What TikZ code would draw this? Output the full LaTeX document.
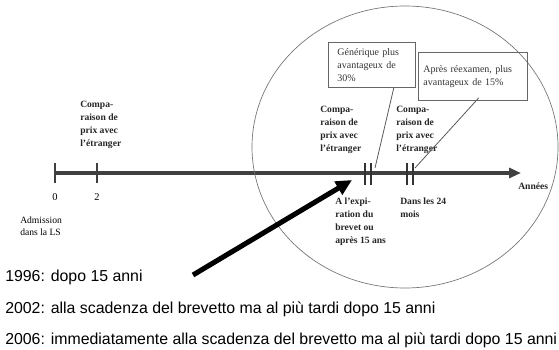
\documentclass[tikz,border=0pt]{standalone}
\usepackage{fontspec}
\setmainfont{Liberation Serif}
\newfontfamily\notefont{Liberation Sans}
\usetikzlibrary{arrows.meta}

\begin{document}
\begin{tikzpicture}[x=0.75pt, y=-0.75pt,
  lbl/.style={anchor=north west, align=left, inner sep=0pt,
    font=\fontsize{7.2}{9.75}\selectfont\bfseries, text=black!85},
  txtbox/.style={draw=black!60, line width=0.6pt, anchor=north west,
    align=left, inner ysep=0pt, font=\fontsize{7.5}{9.75}\selectfont, text=black!80},
  yeartick/.style={line width=2.2pt, draw=black!75},
  pointer/.style={draw=black!65, line width=0.6pt},
  note/.style={anchor=west, inner sep=0pt, font=\notefont\fontsize{11.9}{13}\selectfont}]
  \useasboundingbox (0,0) rectangle (559,349);

  % time axis
  \draw[line width=2.3pt, black!75, -{Triangle[length=9pt,width=7.5pt]}] (55,173) -- (521,173);
  \draw[yeartick] (55,163) -- (55,183);
  \draw[yeartick] (97,163) -- (97,183);
  \draw[line width=1.8pt, black!80] (365,163) -- (365,185) (371,163) -- (371,185);
  \draw[line width=1.8pt, black!80] (407,163) -- (407,185) (413,163) -- (413,185);
  \coordinate (dblA) at (375,168);
  \coordinate (dblB) at (415,168);

  \node[inner sep=0pt, font=\fontsize{7.8}{9}\selectfont] (zero) at (55,197) {0};
  \node[inner sep=0pt, font=\fontsize{7.8}{9}\selectfont] (two) at (97,197) {2};
  \node[lbl, font=\fontsize{7.2}{8.8}\selectfont, text=black] (admit) at (20,217) {Admission\\dans la LS};
  \node[lbl] (cmpA) at (80,101) {Compa-\\raison de\\prix avec\\l'étranger};
  \node[lbl] (cmpB) at (320,106) {Compa-\\raison de\\prix avec\\l'étranger};
  \node[lbl] (cmpC) at (396,106) {Compa-\\raison de\\prix avec\\l'étranger};
  \node[lbl] (expiry) at (335,198) {A l'expi-\\ration du\\brevet ou\\après 15 ans};
  \node[lbl] (within) at (400,198) {Dans les 24\\mois};
  \node[lbl, anchor=west] (years) at (518,186) {Années};

  % focus on the last steps
  \draw[black!55, line width=0.5pt] (405,147) ellipse [x radius=153, y radius=141];

  \node[txtbox, inner xsep=6.75pt, text width=51.75pt, minimum width=65.25pt,
    minimum height=33.75pt] (generic) at (328,42) {Générique plus\\avantageux de\\30\%};
  \node[txtbox, inner xsep=3.75pt, text width=74.25pt, minimum width=81.75pt,
    minimum height=36pt] (review) at (418,52) {Après réexamen, plus\\avantageux de 15\%};
  \draw[pointer] (generic.south east) ++(-22,0) -- (dblA);
  \draw[pointer] (review.south east) ++(-49,-3) -- (dblB);

  \coordinate (foot) at (193,275);
  \coordinate (expiryhit) at (352,180);
  \draw[line width=3.8pt, -{Triangle[length=12pt,width=11pt]}] (foot) -- (expiryhit);

  \node[note] (y1996) at (5,277) {1996: dopo 15 anni};
  \node[note] (y2002) at (5,309) {2002: alla scadenza del brevetto ma al più tardi dopo 15 anni};
  \node[note] (y2006) at (5,340) {2006: immediatamente alla scadenza del brevetto ma al più tardi dopo 15 anni};
\end{tikzpicture}
\end{document}
